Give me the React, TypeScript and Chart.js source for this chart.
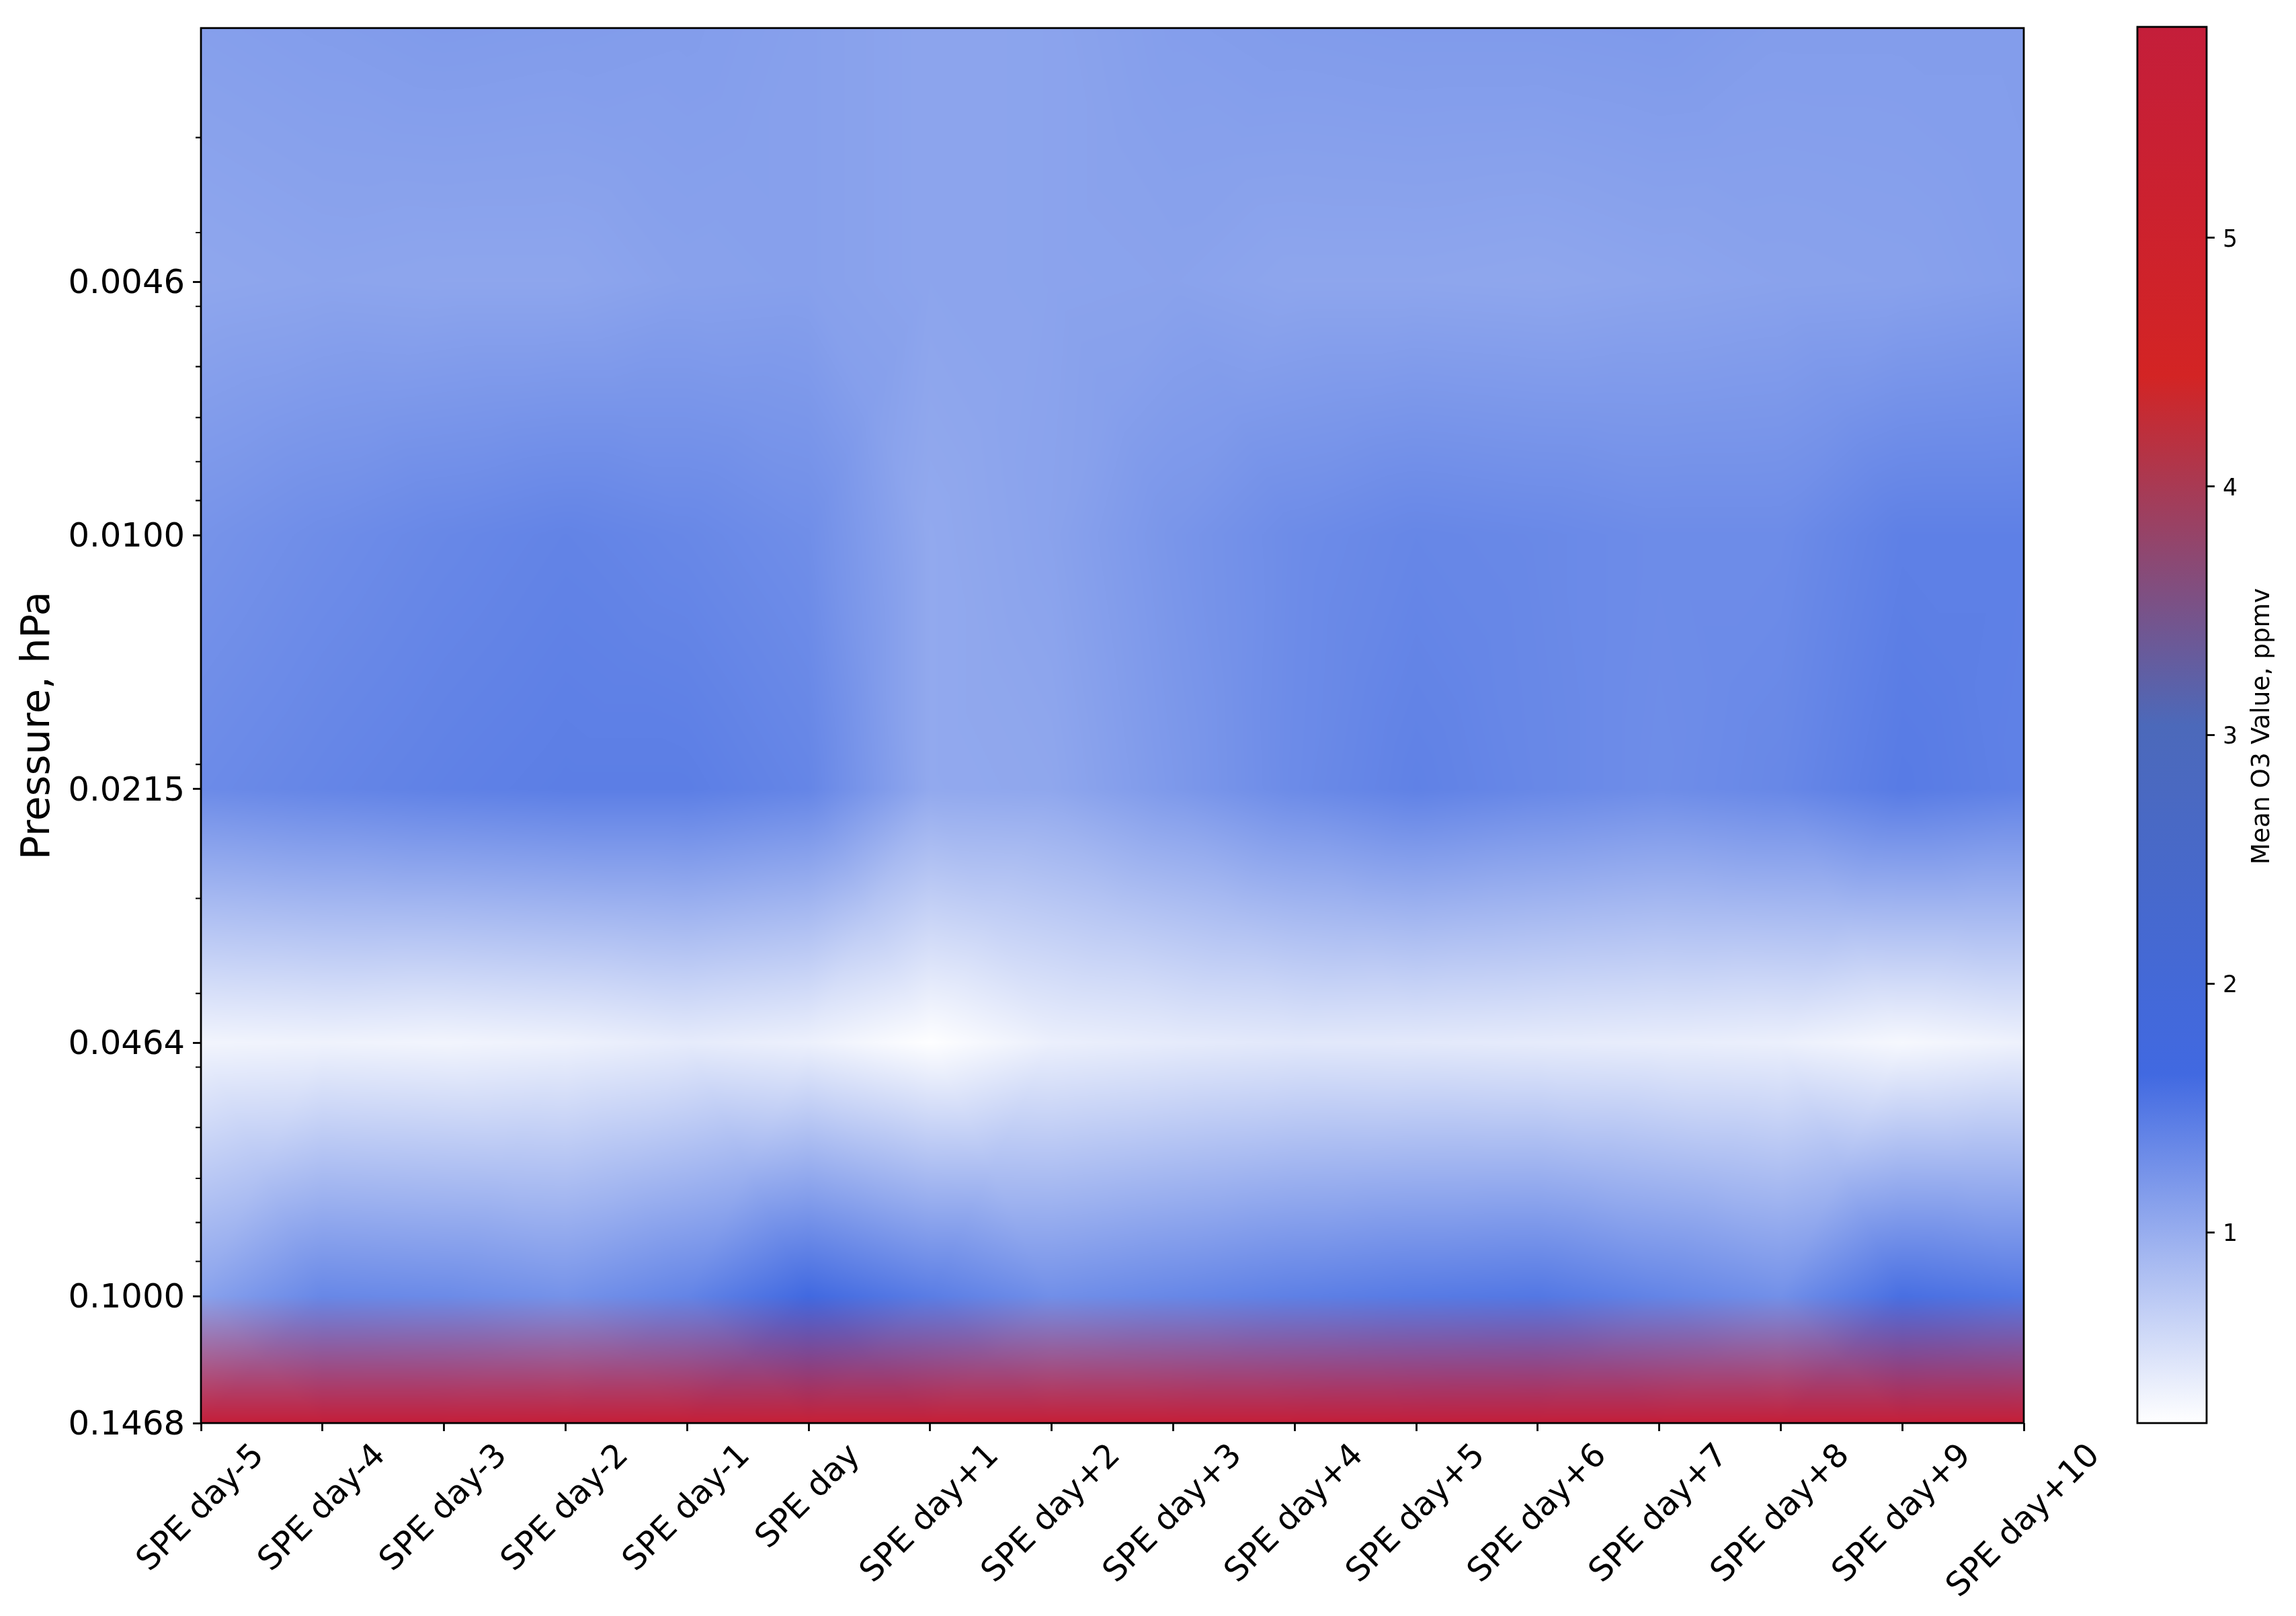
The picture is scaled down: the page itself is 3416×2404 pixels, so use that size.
import React, { useEffect, useRef } from "react";
import { Chart, registerables } from "chart.js";

Chart.register(...registerables);

const days = ["SPE day-5","SPE day-4","SPE day-3","SPE day-2","SPE day-1","SPE day","SPE day+1","SPE day+2","SPE day+3","SPE day+4","SPE day+5","SPE day+6","SPE day+7","SPE day+8","SPE day+9","SPE day+10"];
const levels = [0.002154, 0.004642, 0.01, 0.02154, 0.04642, 0.1, 0.1468];
const labeledLevels = [0.004642, 0.01, 0.02154, 0.04642, 0.1, 0.1468];
const minorTicks = [0.003,0.004,0.005,0.006,0.007,0.008,0.009,0.02,0.03,0.04,0.05,0.06,0.07,0.08,0.09];
const o3At0p0022 = [1.13,1.15,1.17,1.16,1.15,1.12,1.08,1.09,1.14,1.16,1.17,1.17,1.18,1.15,1.15,1.15];
const o3At0p0046 = [1.06,1.08,1.07,1.07,1.11,1.12,1.08,1.09,1.10,1.07,1.07,1.06,1.08,1.10,1.11,1.14];
const o3At0p0100 = [1.24,1.30,1.35,1.39,1.35,1.29,1.04,1.10,1.22,1.31,1.36,1.34,1.31,1.31,1.42,1.42];
const o3At0p0215 = [1.32,1.37,1.41,1.44,1.44,1.37,1.04,1.06,1.19,1.32,1.41,1.35,1.30,1.35,1.47,1.41];
const o3At0p0464 = [0.33,0.35,0.33,0.36,0.42,0.37,0.24,0.38,0.42,0.45,0.44,0.42,0.40,0.38,0.30,0.36];
const o3At0p1000 = [1.10,1.35,1.32,1.25,1.38,1.65,1.45,1.28,1.35,1.42,1.47,1.50,1.38,1.27,1.58,1.50];
const o3At0p1468 = [5.75,5.80,5.80,5.72,5.65,5.55,5.60,5.65,5.70,5.75,5.85,5.80,5.78,5.72,5.70,5.65];
const o3Rows = [o3At0p0022,o3At0p0046,o3At0p0100,o3At0p0215,o3At0p0464,o3At0p1000,o3At0p1468];

const vMin = 0.233;
const vMax = 5.848;
const cmapStops = [0, 0.25, 0.5, 0.75, 1];
const cmapColors = [[255,255,255],[65,105,225],[76,105,186],[211,36,36],[196,30,58]];
const colorbarTicks = [1,2,3,4,5];
const yAxisLabel = "Pressure, hPa";
const colorbarLabel = "Mean O3 Value, ppmv";

const FONT = '"DejaVu Sans"';
const LW = 2.8;

function cmap(v: number) {
  const t = Math.min(1, Math.max(0, (v - vMin) / (vMax - vMin)));
  let i = 0;
  while (i < cmapStops.length - 2 && t > cmapStops[i + 1]) i++;
  const f = (t - cmapStops[i]) / (cmapStops[i + 1] - cmapStops[i]);
  return cmapColors[i].map((c, k) => c + (cmapColors[i + 1][k] - c) * f);
}

function fillTri(img: ImageData, a: number[], b: number[], c: number[]) {
  const W = img.width, H = img.height, d = img.data;
  const x0 = Math.max(0, Math.floor(Math.min(a[0], b[0], c[0])));
  const x1 = Math.min(W - 1, Math.ceil(Math.max(a[0], b[0], c[0])));
  const y0 = Math.max(0, Math.floor(Math.min(a[1], b[1], c[1])));
  const y1 = Math.min(H - 1, Math.ceil(Math.max(a[1], b[1], c[1])));
  const den = (b[1] - c[1]) * (a[0] - c[0]) + (c[0] - b[0]) * (a[1] - c[1]);
  if (Math.abs(den) < 1e-9) return;
  for (let y = y0; y <= y1; y++) {
    for (let x = x0; x <= x1; x++) {
      const px = x + 0.5, py = y + 0.5;
      const l1 = ((b[1] - c[1]) * (px - c[0]) + (c[0] - b[0]) * (py - c[1])) / den;
      const l2 = ((c[1] - a[1]) * (px - c[0]) + (a[0] - c[0]) * (py - c[1])) / den;
      const l3 = 1 - l1 - l2;
      if (l1 < -1e-6 || l2 < -1e-6 || l3 < -1e-6) continue;
      const o = (y * W + x) * 4;
      d[o] = l1 * a[2] + l2 * b[2] + l3 * c[2];
      d[o + 1] = l1 * a[3] + l2 * b[3] + l3 * c[3];
      d[o + 2] = l1 * a[4] + l2 * b[4] + l3 * c[4];
      d[o + 3] = 255;
    }
  }
}

const meshPlugin = {
  id: "gouraudMesh",
  beforeDatasetsDraw(chart: any) {
    const { ctx, chartArea: area, scales } = chart;
    const X = scales.x, Y = scales.y;
    const sets = chart.data.datasets;
    const vert = (r: number, c: number) => {
      const p = sets[r].data[c];
      const col = cmap(p.v);
      return [X.getPixelForValue(c) - area.left, Y.getPixelForValue(p.y) - area.top, col[0], col[1], col[2]];
    };
    const W = Math.ceil(area.right - area.left), H = Math.ceil(area.bottom - area.top);
    const off = document.createElement("canvas");
    off.width = W; off.height = H;
    const oc = off.getContext("2d")!;
    const img = oc.createImageData(W, H);
    for (let r = 0; r < sets.length - 1; r++) {
      for (let c = 0; c < days.length - 1; c++) {
        const q = [vert(r, c), vert(r, c + 1), vert(r + 1, c + 1), vert(r + 1, c)];
        const m = q[0].map((_, k) => (q[0][k] + q[1][k] + q[2][k] + q[3][k]) / 4);
        for (let k = 0; k < 4; k++) fillTri(img, q[k], q[(k + 1) % 4], m);
      }
    }
    oc.putImageData(img, 0, 0);
    ctx.drawImage(off, area.left, area.top);
  },
  afterDatasetsDraw(chart: any) {
    const { ctx, chartArea: a, scales } = chart;
    ctx.save();
    ctx.strokeStyle = "#000";
    ctx.lineWidth = LW;
    ctx.strokeRect(a.left, a.top, a.right - a.left, a.bottom - a.top);
    ctx.lineWidth = 2.1;
    ctx.beginPath();
    for (const m of minorTicks) {
      const y = scales.y.getPixelForValue(m);
      ctx.moveTo(a.left, y);
      ctx.lineTo(a.left - 8, y);
    }
    ctx.stroke();
    // x tick labels, rotated 45 degrees about the centre of their bounding box
    const em = 48.6;
    ctx.font = `${em}px ${FONT}`;
    ctx.fillStyle = "#000";
    ctx.textAlign = "center";
    ctx.textBaseline = "alphabetic";
    const top = a.bottom + 24;
    const h = 0.968 * em;
    scales.x.ticks.forEach((t: any, i: number) => {
      const x = scales.x.getPixelForTick(i);
      const w = ctx.measureText(t.label).width;
      const side = (w + h) * Math.SQRT1_2;
      ctx.save();
      ctx.translate(x, top + side / 2);
      ctx.rotate(-Math.PI / 4);
      ctx.fillText(t.label, 0, h / 2 - 0.208 * em);
      ctx.restore();
    });
    ctx.restore();
  },
};

const colorbarPlugin = {
  id: "colorbarFrame",
  afterDatasetsDraw(chart: any) {
    const { ctx, chartArea: a } = chart;
    ctx.save();
    ctx.strokeStyle = "#000";
    ctx.lineWidth = LW;
    ctx.strokeRect(a.left, a.top, a.right - a.left, a.bottom - a.top);
    ctx.fillStyle = "#000";
    ctx.font = `37.4px ${FONT}`;
    ctx.textAlign = "center";
    ctx.textBaseline = "middle";
    ctx.translate(266, (a.top + a.bottom) / 2 + 2);
    ctx.rotate(-Math.PI / 2);
    ctx.fillText(colorbarLabel, 0, 0);
    ctx.restore();
  },
};

export default function App() {
  const mainRef = useRef<HTMLCanvasElement>(null);
  const barRef = useRef<HTMLCanvasElement>(null);

  useEffect(() => {
    const main = new Chart(mainRef.current!, {
      type: "scatter",
      data: {
        labels: days,
        datasets: levels.map((lev, r) => ({
          label: String(lev),
          data: o3Rows[r].map((v, c) => ({ x: days[c], y: lev, v })),
          pointRadius: 0,
          showLine: false,
        })),
      },
      options: {
        animation: false,
        responsive: false,
        devicePixelRatio: 1,
        layout: { padding: { left: 0, top: 38, right: 405, bottom: 0 } },
        plugins: { legend: { display: false }, tooltip: { enabled: false } },
        events: [],
        scales: {
          x: {
            type: "category",
            labels: days,
            offset: false,
            afterFit: (s: any) => { s.height = 287; },
            border: { display: false },
            grid: { drawOnChartArea: false, drawTicks: true, tickLength: 12, tickWidth: LW, tickColor: "#000", offset: false },
            ticks: { display: false, autoSkip: false },
          },
          y: {
            type: "logarithmic",
            reverse: true,
            min: levels[0],
            max: levels[levels.length - 1],
            afterBuildTicks: (s: any) => { s.ticks = labeledLevels.map((value) => ({ value })); },
            afterFit: (s: any) => { s.width = 299; },
            border: { display: false },
            grid: { drawOnChartArea: false, drawTicks: true, tickLength: 12, tickWidth: LW, tickColor: "#000" },
            ticks: {
              autoSkip: false,
              padding: 12,
              labelOffset: 4,
              color: "#000",
              font: { family: "DejaVu Sans", size: 49.6 },
              callback: (v: any) => Number(v).toFixed(4),
            },
            title: {
              display: true,
              text: yAxisLabel,
              color: "#000",
              font: { family: "DejaVu Sans", size: 59.5 },
              padding: { top: 22, bottom: 0 },
            },
          },
        },
      },
      plugins: [meshPlugin],
    } as any);

    const bar = new Chart(barRef.current!, {
      type: "bar",
      data: {
        labels: ["O3"],
        datasets: [{
          label: colorbarLabel,
          data: [[vMin, vMax]],
          barPercentage: 1,
          categoryPercentage: 1,
          borderWidth: 0,
          backgroundColor: (c: any) => {
            const area = c.chart.chartArea;
            if (!area) return "#4169e1";
            const g = c.chart.ctx.createLinearGradient(0, area.bottom, 0, area.top);
            cmapStops.forEach((s, i) => g.addColorStop(s, `rgb(${cmapColors[i].join(",")})`));
            return g;
          },
        }],
      },
      options: {
        animation: false,
        responsive: false,
        devicePixelRatio: 1,
        layout: { padding: { left: 80, top: 40, right: 0, bottom: 287 } },
        plugins: { legend: { display: false }, tooltip: { enabled: false } },
        events: [],
        scales: {
          x: { display: false },
          y: {
            position: "right",
            min: vMin,
            max: vMax,
            afterBuildTicks: (s: any) => { s.ticks = colorbarTicks.map((value) => ({ value })); },
            afterFit: (s: any) => { s.width = 133; },
            border: { display: false },
            grid: { drawOnChartArea: false, drawTicks: true, tickLength: 12, tickWidth: LW, tickColor: "#000" },
            ticks: { padding: 12, labelOffset: 4, color: "#000", font: { family: "DejaVu Sans", size: 34.7 }, autoSkip: false },
          },
        },
      },
      plugins: [colorbarPlugin],
    } as any);

    return () => { main.destroy(); bar.destroy(); };
  }, []);

  return (
    <div style={{ position: "absolute", left: 0, top: 0, width: 3416, height: 2404, background: "#fff" }}>
      <canvas ref={mainRef} width={3416} height={2404} style={{ position: "absolute", left: 0, top: 0 }} />
      <canvas ref={barRef} width={316} height={2404} style={{ position: "absolute", left: 3100, top: 0 }} />
    </div>
  );
}
